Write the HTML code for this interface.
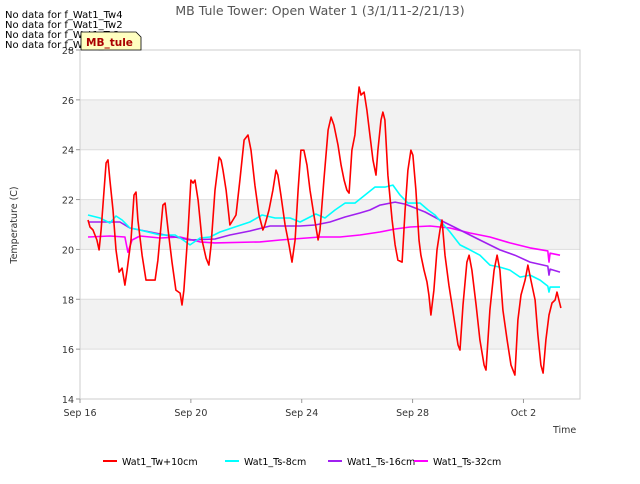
<!DOCTYPE html>
<html><head><meta charset="utf-8"><style>
body{margin:0;background:#fff;font-family:"DejaVu Sans","Liberation Sans",sans-serif;}
svg text{font-family:"DejaVu Sans","Liberation Sans",sans-serif;}
</style></head><body>
<svg id="chart" width="640" height="480" xmlns="http://www.w3.org/2000/svg">
<rect width="640" height="480" fill="#fff"/>
<g id="bands"></g><g id="grid"></g>
<rect x="80" y="50" width="500" height="349" fill="none" stroke="#ccc"/>
<g id="axes"></g><g id="series"></g>
<text x="320" y="15" text-anchor="middle" font-size="12.5" fill="#555">MB Tule Tower: Open Water 1 (3/1/11-2/21/13)</text>
<text transform="translate(17,225) rotate(-90)" text-anchor="middle" font-size="9.5" fill="#333">Temperature (C)</text>
<text x="553" y="433" font-size="9.5" fill="#333">Time</text>
<g font-size="10" fill="#000">
<text x="5" y="18">No data for f_Wat1_Tw4</text>
<text x="5" y="28">No data for f_Wat1_Tw2</text>
<text x="5" y="38">No data for f_Wat1_Ts2</text>
<text x="5" y="48">No data for f_Wat1_Ts4</text>
</g>
<g>
<path d="M81,32 L136,32 L141,37 L141,50 L81,50 Z" fill="#ffffc0" stroke="#000" stroke-width="0.8"/>
<text x="86" y="46" font-size="10.5" font-weight="bold" fill="#a00">MB_tule</text>
</g>
<g id="legend"></g>
</svg>
<script>
const ticksY=[14,16,18,20,22,24,26,28];
const tickXLabels=["Sep 16","Sep 20","Sep 24","Sep 28","Oct 2"];
const tickXDays=[0,4,8,12,16];
const seriesNames=["Wat1_Tw+10cm","Wat1_Ts-8cm","Wat1_Ts-16cm","Wat1_Ts-32cm"];
const seriesColors=["#ff0000","#00ffff","#a020f0","#ff00ff"];
const redDays=[.29,.36,.47,.61,.69,.76,.94,1.01,1.08,1.19,1.30,1.41,1.52,1.62,1.70,1.84,1.95,2.02,2.09,2.24,2.38,2.53,2.71,2.81,2.99,3.07,3.18,3.32,3.46,3.61,3.68,3.75,3.90,4.00,4.08,4.15,4.26,4.40,4.55,4.65,4.73,4.87,5.02,5.09,5.16,5.27,5.41,5.63,5.77,5.92,6.06,6.17,6.31,6.46,6.60,6.67,6.82,6.96,7.07,7.14,7.25,7.40,7.54,7.65,7.76,7.87,7.97,8.08,8.19,8.30,8.44,8.59,8.66,8.80,8.95,9.06,9.16,9.31,9.42,9.53,9.63,9.71,9.81,9.92,9.99,10.07,10.14,10.25,10.35,10.46,10.57,10.68,10.75,10.86,10.93,11.00,11.11,11.26,11.37,11.47,11.62,11.73,11.83,11.94,12.01,12.12,12.23,12.30,12.41,12.52,12.59,12.66,12.77,12.88,12.99,13.06,13.17,13.31,13.42,13.53,13.64,13.71,13.82,13.96,14.04,14.14,14.29,14.43,14.58,14.65,14.79,14.94,15.05,15.15,15.26,15.41,15.55,15.69,15.80,15.91,16.06,16.16,16.27,16.42,16.52,16.63,16.71,16.81,16.92,17.03,17.14,17.21,17.28,17.35];
const redVals=[21.18,20.90,20.78,20.38,19.98,20.78,23.47,23.59,22.78,21.58,19.98,19.09,19.25,18.57,19.17,20.38,22.18,22.30,21.18,19.77,18.77,18.77,18.77,19.57,21.78,21.86,20.78,19.49,18.37,18.25,17.77,18.37,20.78,22.78,22.66,22.78,21.98,20.38,19.65,19.37,20.18,22.38,23.70,23.58,23.18,22.38,20.98,21.38,22.78,24.39,24.59,23.98,22.58,21.38,20.78,20.98,21.58,22.38,23.18,22.98,22.18,20.98,20.18,19.49,20.38,22.38,23.98,23.98,23.38,22.38,21.38,20.38,20.78,22.78,24.79,25.31,24.99,24.19,23.38,22.78,22.38,22.26,23.98,24.59,25.59,26.51,26.19,26.31,25.59,24.59,23.58,22.98,23.98,25.19,25.51,25.19,22.98,21.18,20.18,19.57,19.49,21.58,23.18,23.98,23.78,22.38,20.38,19.77,19.17,18.69,18.17,17.37,18.37,19.98,20.78,21.18,19.77,18.57,17.77,16.97,16.17,15.96,17.77,19.49,19.77,19.17,17.77,16.37,15.36,15.16,17.57,19.17,19.77,19.17,17.57,16.37,15.36,14.96,17.17,18.17,18.77,19.37,18.77,17.97,16.57,15.36,15.04,16.37,17.37,17.85,17.97,18.29,17.97,17.65];
const cyanDays=[.29,.72,1.08,1.30,1.52,1.80,2.16,2.89,3.43,3.72,3.97,4.33,4.69,5.05,5.48,6.13,6.57,7.04,7.58,7.94,8.51,8.84,9.20,9.56,9.92,10.28,10.64,11.00,11.29,11.55,11.83,12.27,12.56,12.81,13.35,13.71,14.07,14.43,14.79,15.15,15.51,15.88,16.24,16.60,16.88,16.92,16.96,17.32];
const cyanVals=[21.38,21.26,21.06,21.34,21.18,20.86,20.78,20.58,20.58,20.38,20.18,20.46,20.50,20.70,20.86,21.10,21.38,21.26,21.26,21.10,21.42,21.26,21.58,21.86,21.86,22.18,22.50,22.50,22.58,22.18,21.86,21.86,21.58,21.38,20.70,20.18,19.98,19.77,19.37,19.29,19.17,18.89,18.97,18.77,18.53,18.29,18.49,18.49];
const purpleDays=[.29,1.44,1.80,2.53,3.25,3.97,4.87,5.41,6.13,6.86,7.94,8.48,9.02,9.56,10.10,10.46,10.82,11.37,11.73,12.09,12.45,12.99,13.71,14.43,15.15,15.69,16.24,16.88,16.92,16.96,17.32];
const purpleVals=[21.10,21.10,20.86,20.70,20.54,20.38,20.42,20.58,20.74,20.94,20.94,20.98,21.10,21.30,21.46,21.58,21.78,21.90,21.82,21.66,21.50,21.18,20.78,20.38,19.98,19.77,19.49,19.33,18.97,19.21,19.09];
const magentaDays=[.29,1.08,1.62,1.73,1.88,2.16,2.89,3.61,4.33,4.87,6.49,7.22,8.66,9.38,10.10,10.82,11.37,11.91,12.63,13.35,14.07,14.79,15.51,16.24,16.88,16.92,16.96,17.32];
const magentaVals=[20.50,20.54,20.50,19.89,20.38,20.54,20.46,20.50,20.30,20.26,20.30,20.38,20.50,20.50,20.58,20.70,20.82,20.90,20.94,20.86,20.66,20.50,20.26,20.06,19.94,19.49,19.85,19.77];

const NS="http://www.w3.org/2000/svg";
const X0=80,X1=580,Y0=399,Y1=50,DMAX=18.04,VMIN=14,VMAX=28;
const xs=d=>X0+(X1-X0)*d/DMAX;
const ys=v=>Y0-(Y0-Y1)*(v-VMIN)/(VMAX-VMIN);
function mk(tag,attrs,parent){const e=document.createElementNS(NS,tag);for(const k in attrs)e.setAttribute(k,attrs[k]);parent.appendChild(e);return e;}
const bands=document.getElementById('bands'),grid=document.getElementById('grid'),axes=document.getElementById('axes'),ser=document.getElementById('series'),leg=document.getElementById('legend');
for(let i=0;i<ticksY.length-1;i++){
  if(i%2===1){const r=mk('rect',{x:X0,y:ys(ticksY[i+1]),width:X1-X0,height:ys(ticksY[i])-ys(ticksY[i+1]),fill:'#f2f2f2'},bands);
  
  }
}
ticksY.forEach(v=>{
  const l=mk('line',{x1:X0,x2:X1,y1:ys(v),y2:ys(v),stroke:'#ddd'},grid);
  
  
  const tk=mk('line',{x1:X0-4,x2:X0,y1:ys(v),y2:ys(v),stroke:'#999'},axes);
  
  
  const t=mk('text',{x:X0-6,y:ys(v)+4,'text-anchor':'end','font-size':'9.5',fill:'#333'},axes);
  t.textContent=v;
  
  
});
tickXDays.forEach((d,i)=>{
  const tk=mk('line',{x1:xs(d),x2:xs(d),y1:Y0,y2:Y0+4,stroke:'#999'},axes);
  
  
  const t=mk('text',{x:xs(d),y:Y0+17,'text-anchor':'middle','font-size':'9.5',fill:'#333'},axes);
  t.textContent=tickXLabels[i];
  
  
});
const all=[[redDays,redVals],[cyanDays,cyanVals],[purpleDays,purpleVals],[magentaDays,magentaVals]];
[3,2,1,0].forEach(i=>{
  const [D,V]=all[i];
  const p=mk('polyline',{points:D.map((d,j)=>xs(d).toFixed(1)+','+ys(V[j]).toFixed(1)).join(' '),fill:'none',stroke:seriesColors[i],'stroke-width':'1.6','stroke-linejoin':'round'},ser);
  
  
});
const legX=[103,225,328,414];
seriesNames.forEach((n,i)=>{
  const g=mk('g',{},leg);
  
  
  mk('line',{x1:legX[i],x2:legX[i]+14,y1:461,y2:461,stroke:seriesColors[i],'stroke-width':'2'},g);
  const t=mk('text',{x:legX[i]+19,y:465,'font-size':'9.5',fill:'#000'},g);
  t.textContent=n;
});
</script>
</body></html>
